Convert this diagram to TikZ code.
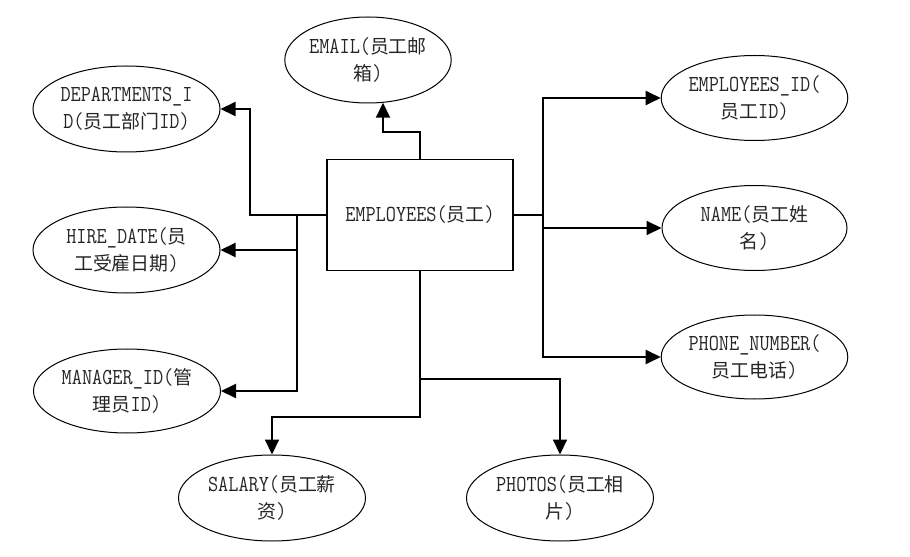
\documentclass[tikz,border=0pt]{standalone}
\usepackage{fontspec}
\setmainfont{Latin Modern Mono}[FakeStretch=0.86]
\newfontfamily\cjk{Noto Sans CJK SC}
\usetikzlibrary{shapes.geometric,arrows.meta}
\newcommand{\zh}[1]{{\cjk\fontsize{19}{27}\selectfont #1}}
\tikzset{
  attr/.style={draw, ellipse, line width=1bp, minimum width=187bp, minimum height=86bp,
    inner sep=0pt, align=center, font=\fontsize{23}{27}\selectfont, text=black!85},
  entity/.style={draw, rectangle, line width=1.2bp, minimum width=186bp, minimum height=111bp,
    inner sep=0pt, align=center, font=\fontsize{23}{27}\selectfont, text=black!85},
  conn/.style={line width=2bp, -{Triangle[length=15bp,width=14bp]}},
}
\begin{document}
\begin{tikzpicture}[x=1bp,y=-1bp]
\path[use as bounding box] (0,0) rectangle (910,557);

\node[entity] (emp) at (420,215) {EMPLOYEES(\zh{员工})};

\node[attr, minimum width=160bp] (email) at (368,60) {EMAIL(\zh{员工邮}\\\zh{箱})};
\node[attr] (dept) at (126.5,109) {DEPARTMENTS\_I\\D(\zh{员工部门}ID)};
\node[attr] (hire) at (126.5,250) {HIRE\_DATE(\zh{员}\\\zh{工受雇日期})};
\node[attr, minimum height=84bp] (mgr) at (127,391) {MANAGER\_ID(\zh{管}\\\zh{理员}ID)};
\node[attr] (sal) at (272,498) {SALARY(\zh{员工薪}\\\zh{资})};
\node[attr] (pho) at (560,498) {PHOTOS(\zh{员工相}\\\zh{片})};
\node[attr, minimum width=185bp, minimum height=85bp] (eid) at (754.5,98) {EMPLOYEES\_ID(\\\zh{员工}ID)};
\node[attr, minimum width=185bp, minimum height=85bp] (name) at (754.5,228) {NAME(\zh{员工姓}\\\zh{名})};
\node[attr, minimum width=185bp, minimum height=84bp] (phone) at (754.5,357) {PHONE\_NUMBER(\\\zh{员工电话})};

\coordinate (lj) at (250,0);
\coordinate (lt) at (297,0);
\coordinate (rt) at (543,0);
\coordinate (et) at (0,132);
\coordinate (ex) at (383,0);
\coordinate (bs) at (0,417);
\coordinate (bp) at (0,379);

\draw[conn] (emp.north) -- (emp.north |- et) -| (ex |- email.-70);
\draw[conn] (emp.west) -| (lj |- dept.east) -- (dept.east);
\draw[conn] (emp.west) -| (lt |- hire.east) -- (hire.east);
\draw[conn] (emp.west) -| (lt |- mgr.east) -- (mgr.east);
\draw[conn] (emp.east) -| (rt |- eid.west) -- (eid.west);
\draw[conn] (emp.east) -| (rt |- name.west) -- (name.west);
\draw[conn] (emp.east) -| (rt |- phone.west) -- (phone.west);
\draw[conn] (emp.south) -- (emp.south |- bs) -| (sal.north);
\draw[conn] (emp.south) -- (emp.south |- bp) -| (pho.north);
\end{tikzpicture}
\end{document}
